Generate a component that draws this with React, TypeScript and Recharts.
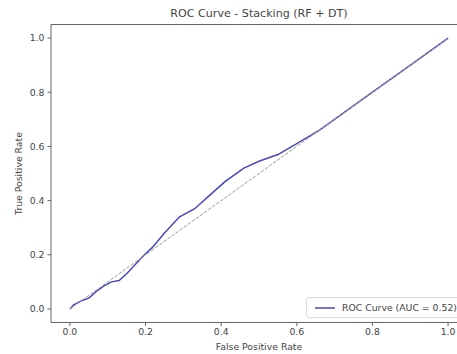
import { LineChart, Line, XAxis, YAxis, ReferenceArea } from 'recharts';

// ROC curve (false positive rate vs true positive rate)
const fpr = [0, 0.01, 0.03, 0.05, 0.07, 0.09, 0.11, 0.13, 0.15, 0.19, 0.22, 0.25, 0.29, 0.33, 0.37, 0.41, 0.46, 0.5, 0.55, 0.6, 0.66, 0.72, 0.8, 0.88, 0.94, 1.0];
const tpr = [0, 0.015, 0.03, 0.04, 0.065, 0.085, 0.1, 0.105, 0.13, 0.19, 0.23, 0.28, 0.34, 0.37, 0.42, 0.47, 0.52, 0.545, 0.57, 0.61, 0.66, 0.72, 0.8, 0.88, 0.94, 1.0];

// chance line
const chanceX = [0, 1];
const chanceY = [0, 1];

const TICKS = [0, 0.2, 0.4, 0.6, 0.8, 1.0];
const AUC_LABEL = 'ROC Curve (AUC = 0.52)';

const roc = fpr.map((x, i) => ({ fpr: x, tpr: tpr[i] }));
const chance = chanceX.map((x, i) => ({ fpr: x, tpr: chanceY[i] }));

const FONT = '"DejaVu Sans", sans-serif';
const TEXT = '#444';
const SPINE = '#666';
const ROC_COLOR = '#4848bc';

// legend drawn as an overlay so it doesn't eat into the plot area
function RocLegend() {
  return (
    <div
      style={{
        position: 'absolute',
        left: 306,
        top: 297,
        height: 21,
        boxSizing: 'border-box',
        border: '1px solid #ddd',
        borderRadius: 3,
        background: 'rgba(255,255,255,0.8)',
        padding: '0 6px 0 8px',
        display: 'flex',
        alignItems: 'center',
        whiteSpace: 'nowrap',
        fontFamily: FONT,
        fontSize: 9.3,
        color: TEXT,
      }}
    >
      <svg width={20} height={4} style={{ marginRight: 7 }}>
        <line x1={0} y1={2} x2={20} y2={2} stroke={ROC_COLOR} strokeWidth={1.5} />
      </svg>
      {AUC_LABEL}
    </div>
  );
}

export default function App() {
  return (
    <div style={{ position: 'absolute', left: 0, top: 0, width: 457, height: 354, overflow: 'hidden', background: '#fff' }}>
      <div
        style={{
          position: 'absolute',
          left: 0,
          width: 518,
          top: 7,
          textAlign: 'center',
          fontFamily: FONT,
          fontSize: 11.1,
          color: TEXT,
          lineHeight: '14px',
        }}
      >
        ROC Curve - Stacking (RF + DT)
      </div>
      <LineChart width={480} height={354} margin={{ top: 24.5, right: 13, bottom: 0, left: 0 }}>
        <XAxis
          type="number"
          dataKey="fpr"
          domain={[-0.05, 1.05]}
          allowDataOverflow
          ticks={TICKS}
          tickFormatter={(v: number) => v.toFixed(1)}
          height={31.5}
          axisLine={false}
          tickSize={3.5}
          tickMargin={2}
          tickLine={{ stroke: SPINE }}
          tick={{ fontFamily: FONT, fontSize: 9.3, fill: TEXT }}
          label={{ value: 'False Positive Rate', position: 'insideBottom', offset: 4, fontFamily: FONT, fontSize: 9.3, fill: TEXT }}
        />
        <YAxis
          type="number"
          dataKey="tpr"
          domain={[-0.05, 1.05]}
          allowDataOverflow
          ticks={TICKS}
          tickFormatter={(v: number) => v.toFixed(1)}
          width={51}
          axisLine={false}
          tickSize={3.5}
          tickMargin={3}
          tickLine={{ stroke: SPINE }}
          tick={{ fontFamily: FONT, fontSize: 9.3, fill: TEXT }}
          label={{
            content: (props: any) => {
              const vb = props.viewBox || { x: 0, y: 24.5, width: 51, height: 298 };
              const cx = vb.x + 18;
              const cy = vb.y + vb.height / 2;
              return (
                <text
                  x={cx}
                  y={cy}
                  transform={`rotate(-90 ${cx} ${cy})`}
                  textAnchor="middle"
                  dominantBaseline="central"
                  fontFamily={FONT}
                  fontSize={9.3}
                  fill={TEXT}
                >
                  True Positive Rate
                </text>
              );
            },
          }}
        />
        {/* plot frame (matplotlib spines) */}
        <ReferenceArea x1={-0.05} x2={1.05} y1={-0.05} y2={1.05} fill="none" stroke={SPINE} strokeWidth={1} />
        <Line
          data={roc}
          dataKey="tpr"
          type="linear"
          stroke={ROC_COLOR}
          strokeWidth={1.5}
          dot={false}
          isAnimationActive={false}
        />
        <Line
          data={chance}
          dataKey="tpr"
          type="linear"
          stroke="#9a9a9a"
          strokeWidth={1}
          strokeDasharray="3.5 1.5"
          dot={false}
          isAnimationActive={false}
        />
      </LineChart>
      <RocLegend />
    </div>
  );
}
